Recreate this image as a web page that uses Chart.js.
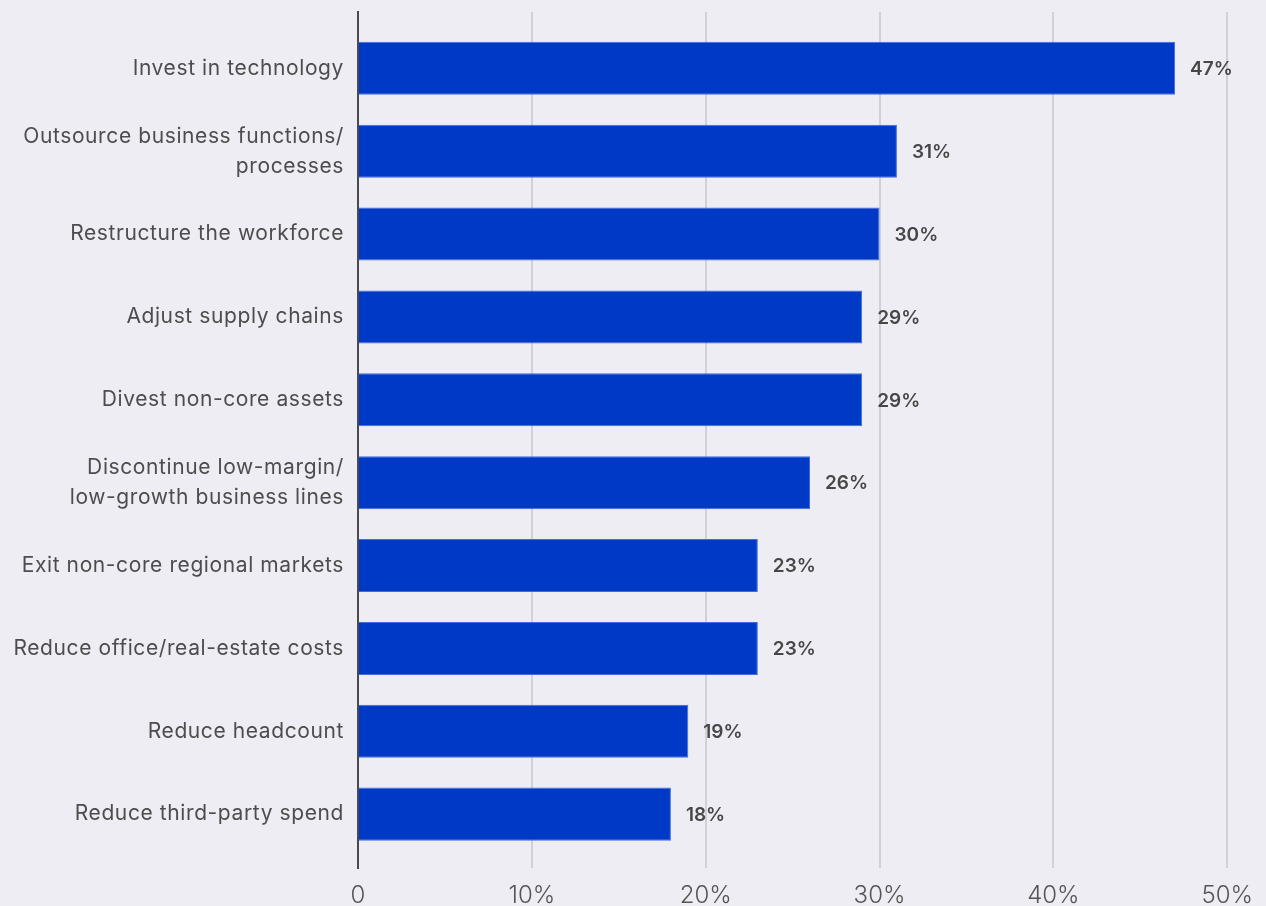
<!DOCTYPE html>
<html>
<head>
<meta charset="utf-8">
<title>Planned actions</title>
<script src="https://cdn.jsdelivr.net/npm/chart.js@4"></script>
<style>
  html, body { margin: 0; padding: 0; background: #eeedf3; overflow: hidden; }
  canvas { display: block; }
</style>
</head>
<body>
<canvas id="actionsChart" width="1266" height="906"></canvas>
<script>
// categories, top to bottom
var categories = [
  'Invest in technology',
  ['Outsource business functions/', 'processes'],
  'Restructure the workforce',
  'Adjust supply chains',
  'Divest non-core assets',
  ['Discontinue low-margin/', 'low-growth business lines'],
  'Exit non-core regional markets',
  'Reduce office/real-estate costs',
  'Reduce headcount',
  'Reduce third-party spend'
];
// share of respondents, %
var values = [47, 31, 30, 29, 29, 26, 23, 23, 19, 18];
var xTicks = [0, 10, 20, 30, 40, 50];

var FONT = 'Inter, "Noto Sans", sans-serif';

// value text next to the end of each bar; the category labels are drawn
// after this (ticks z: 2), so open up their letter spacing here
var valueLabels = {
  id: 'valueLabels',
  afterDatasetsDraw(chart) {
    var ctx = chart.ctx;
    var meta = chart.getDatasetMeta(0);
    ctx.save();
    ctx.font = '600 19px ' + FONT;
    ctx.fillStyle = '#474747';
    ctx.textAlign = 'left';
    ctx.textBaseline = 'middle';
    meta.data.forEach((bar, i) => {
      ctx.fillText(values[i] + '%', bar.x + 15, bar.y + 1);
    });
    ctx.restore();
    ctx.letterSpacing = '0.6px';
  },
  afterDraw(chart) {
    chart.ctx.letterSpacing = '0px';
  }
};

var ctx = document.getElementById('actionsChart').getContext('2d');
var actionsChart = new Chart(ctx, {
  type: 'bar',
  data: {
    datasets: [{
      data: values.map((v, i) => ({ x: v, y: i })),
      backgroundColor: '#0039c6',
      borderColor: '#3d6ee0',
      borderWidth: 1,
      categoryPercentage: 0.8,
      barPercentage: 0.8
    }]
  },
  options: {
    indexAxis: 'y',
    responsive: false,
    animation: false,
    layout: {
      padding: { top: 12, right: 38, left: 0, bottom: 0 }
    },
    scales: {
      x: {
        type: 'linear',
        min: 0,
        max: 50,
        afterBuildTicks: (scale) => {
          scale.ticks = xTicks.map(v => ({ value: v }));
        },
        afterFit: (scale) => { scale.height = 38; },
        grid: {
          color: '#d0d0d6',
          lineWidth: 2,
          drawTicks: false
        },
        border: { display: false },
        ticks: {
          padding: 13,
          color: '#555555',
          font: { family: FONT, size: 24, weight: 300 },
          callback: (v) => v === 0 ? '0' : v + '%'
        }
      },
      y: {
        type: 'linear',
        reverse: true,
        offset: false,
        min: -0.68,
        max: 9.65,
        afterBuildTicks: (scale) => {
          scale.ticks = categories.map((c, i) => ({ value: i }));
        },
        afterFit: (scale) => {
          scale.width = 358;
          scale.paddingTop = 0;
          scale.paddingBottom = 0;
        },
        grid: { display: false, drawTicks: false },
        border: { display: true, color: '#4a4a4a', width: 2, z: 1 },
        ticks: {
          z: 2,
          autoSkip: false,
          padding: 14,
          color: '#4d4d4d',
          font: { family: FONT, size: 21, weight: 400, lineHeight: 1.43 },
          callback: (v) => categories[v]
        }
      }
    },
    plugins: {
      legend: { display: false },
      tooltip: { enabled: false }
    }
  },
  plugins: [valueLabels]
});
</script>
</body>
</html>
